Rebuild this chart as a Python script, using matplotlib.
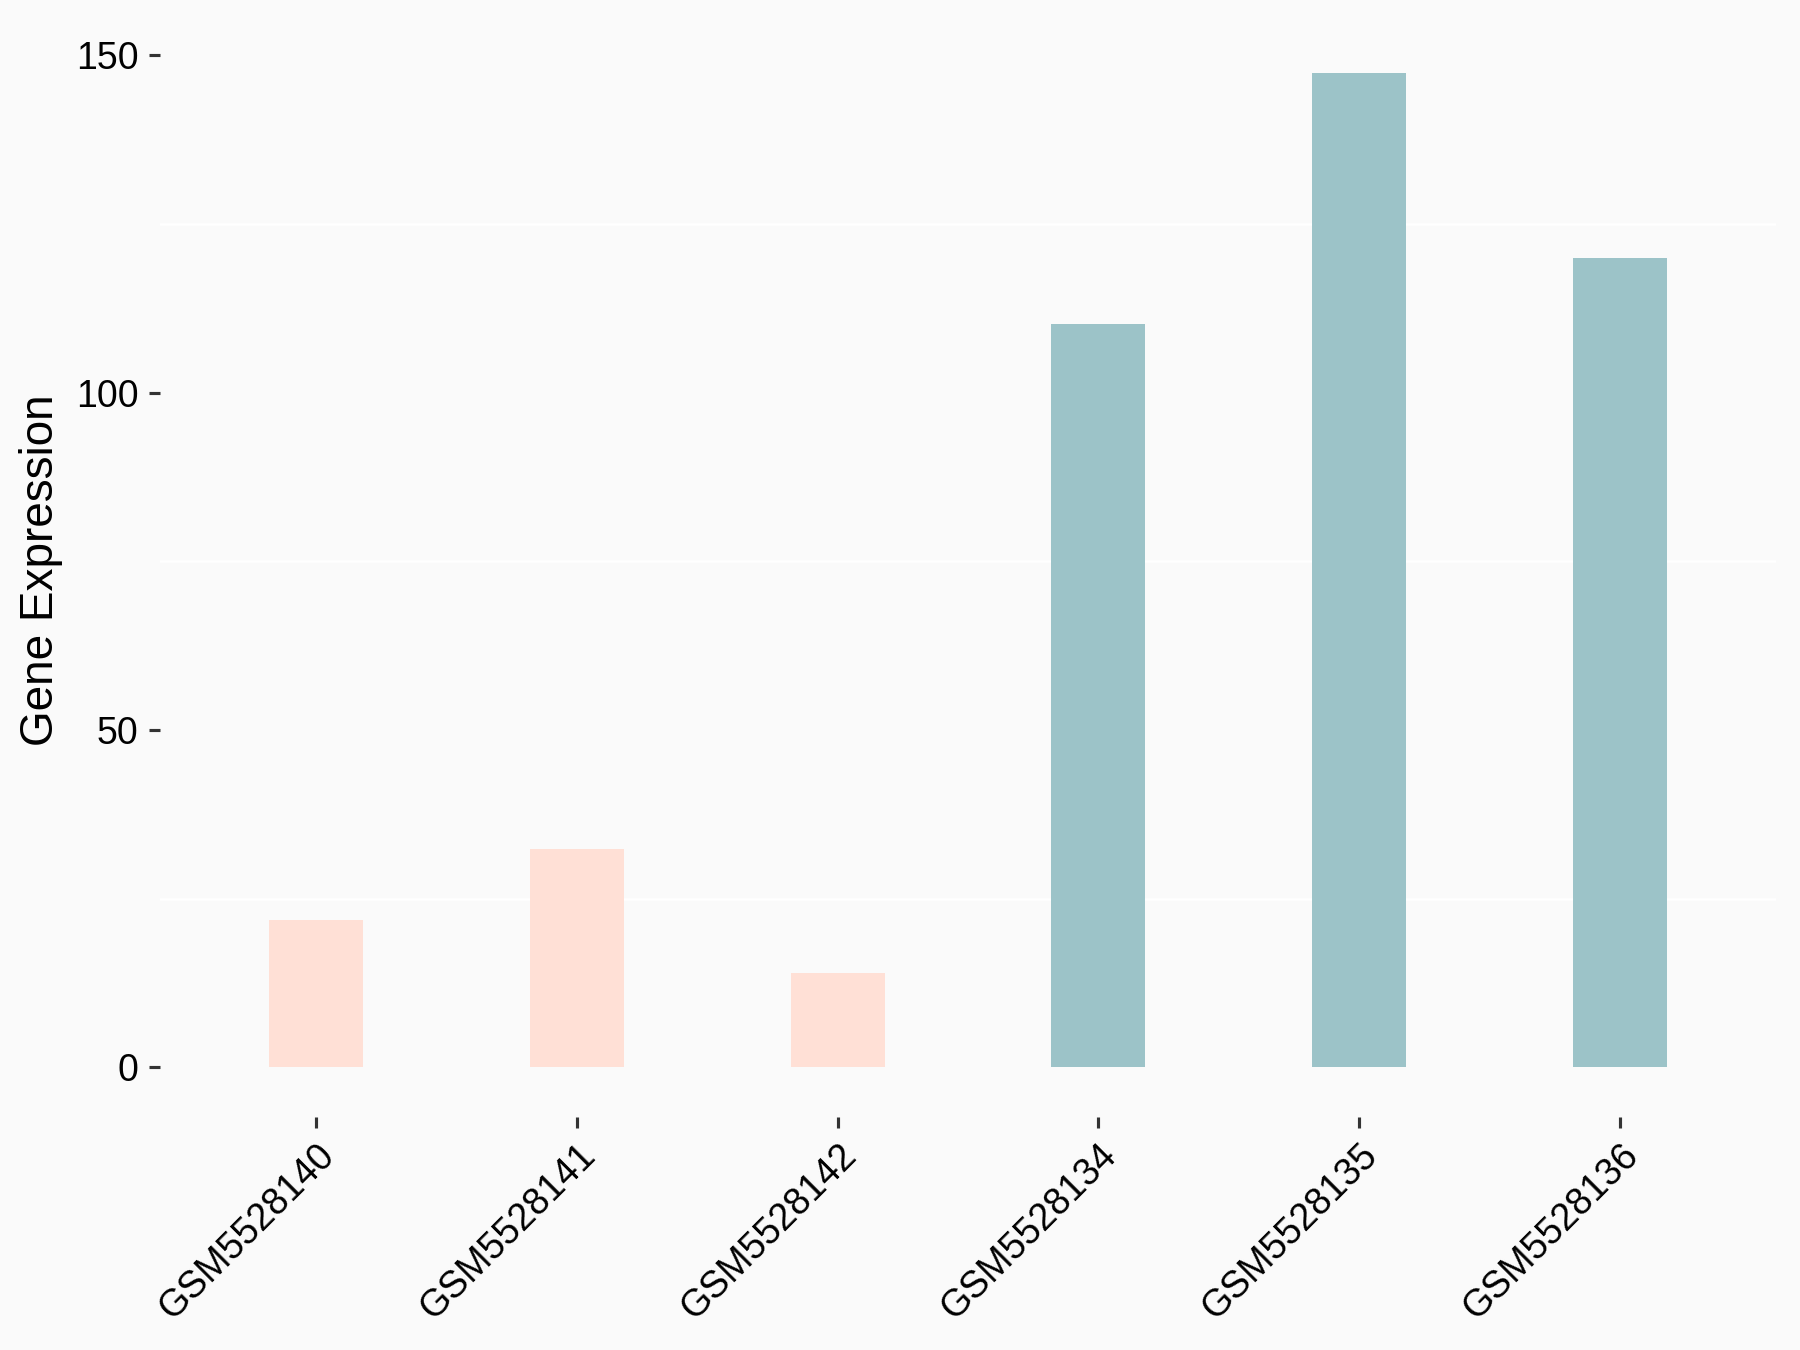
import matplotlib
matplotlib.use("Agg")
import matplotlib.pyplot as plt
import numpy as np

samples = ["GSM5528140", "GSM5528141", "GSM5528142", "GSM5528134", "GSM5528135", "GSM5528136"]
expression = [21.9, 32.3, 13.9, 110.2, 147.4, 119.9]
groups = ["A", "A", "A", "B", "B", "B"]
group_colors = {"A": "#FFE0D6", "B": "#9CC3C8"}
y_ticks = [0, 50, 100, 150]
y_minor = [25, 75, 125]
y_label = "Gene Expression"

plt.rcParams['font.family'] = ['Liberation Sans', 'DejaVu Sans']

fig = plt.figure(figsize=(12, 9), dpi=150, facecolor="#FAFAFA")
ax = fig.add_axes([160/1800, 1 - 1117/1350, 1616/1800, (1117-23)/1350])
ax.set_facecolor("#FAFAFA")

x = np.arange(len(samples))
ax.bar(x, expression, width=0.36, color=[group_colors[g] for g in groups], zorder=2)

ymax = max(expression)
ax.set_ylim(-0.05 * ymax, 1.05 * ymax)
ax.set_xlim(-0.6, len(samples) - 0.4)

ax.set_yticks(y_ticks)
ax.set_yticks(y_minor, minor=True)
ax.grid(axis='y', which='minor', color='white', linewidth=1.2, zorder=1)
ax.grid(axis='y', which='major', visible=False)

for s in ax.spines.values():
    s.set_visible(False)

ax.tick_params(axis='y', which='major', length=5.3, width=1.5, color='#333333',
               labelsize=18, labelcolor='black', pad=5)
ax.tick_params(axis='y', which='minor', length=0)
ax.tick_params(axis='x', length=5.3, width=1.5, color='#333333',
               labelsize=18, labelcolor='black', pad=4.5)

ax.set_xticks(x)
ax.set_xticklabels(samples, rotation=45, ha='right', va='top', rotation_mode='anchor')
for lbl in ax.get_xticklabels():
    lbl.set_x(lbl.get_position()[0])

ax.set_ylabel(y_label, fontsize=22, color='black')
ax.yaxis.set_label_coords(-0.06, 0.5)

fig.savefig("out.png", dpi=150, facecolor=fig.get_facecolor())
